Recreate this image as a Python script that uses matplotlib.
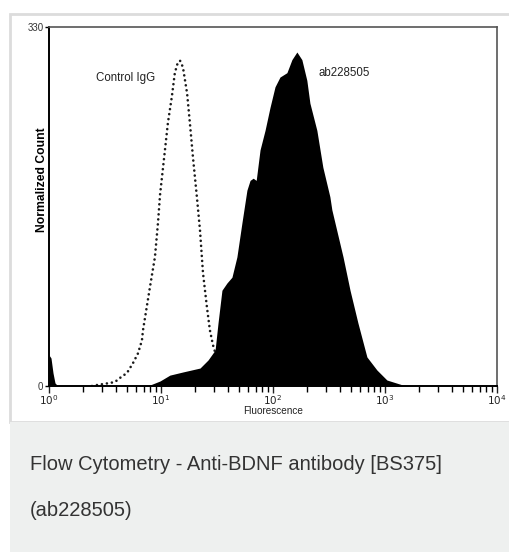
import matplotlib
matplotlib.use("Agg")
import matplotlib.pyplot as plt
from matplotlib.patches import Rectangle

# stained sample (ab228505), filled black histogram
ab_x = [1.0, 1.042, 1.086, 1.131, 1.20, 6.49, 7.97, 9.80, 12.0, 15.7, 22.3, 26.3,
        30.4, 32.3, 35.0, 38.8, 43.0, 47.6, 52.8, 58.5, 62.4, 66.5, 70.8, 76.6,
        84.9, 94.0, 104.2, 115.4, 133.1, 147.5, 163.4, 181.0, 200.5, 213.6, 246.4,
        278.8, 322.0, 335.3, 422.2, 487.3, 573.0, 689.4, 846.6, 1039.8, 1443, 1853]
ab_y = [28.5, 25.7, 12, 2.8, 0, 0, 0.9, 4.6, 10, 12.9, 16.5, 23.9,
        33, 58, 88, 94.7, 100, 118.6, 150, 180, 189, 191, 189, 217,
        235, 256, 275, 284, 288, 300, 307, 300, 281, 260, 235,
        201, 174, 162, 118.6, 88, 58, 26.7, 14.7, 5.5, 0.9, 0]

# isotype control, dotted outline
ctrl_x = [2.42, 2.68, 3.50, 3.88, 4.30, 4.97, 5.62, 6.23, 6.76, 6.90, 7.97, 8.83,
          9.40, 9.80, 10.85, 11.53, 12.5, 13.3, 14.1, 14.8, 15.7, 17.1, 18.1, 19.3,
          20.9, 22.3, 23.7, 25.7, 27.3, 29.1, 32.3, 37.2, 43.0, 50.6]
ctrl_y = [0, 0.9, 2.8, 3.7, 7.4, 12, 21, 30, 42, 51, 91, 118.6,
          150, 175.6, 217, 242, 266, 288, 297, 299, 293, 269, 242, 210,
          174, 143, 104, 72.6, 51.5, 37.7, 22, 10, 2.8, 0]

y_ticks = [0, 330]
caption = ["Flow Cytometry - Anti-BDNF antibody [BS375]", "(ab228505)"]

plt.rcParams["mathtext.fontset"] = "custom"
plt.rcParams["mathtext.rm"] = "Liberation Sans"
plt.rcParams["mathtext.it"] = "Liberation Sans"
plt.rcParams["mathtext.bf"] = "Liberation Sans:bold"

W, H = 510, 552
fig = plt.figure(figsize=(W / 100, H / 100), dpi=100)
fig.patch.set_facecolor("white")

def px(x, y):
    # pixel coords (from top-left) -> figure fraction
    return x / W, 1 - y / H

# card with light border, gray caption strip below (behind the axes)
fig.patches.append(Rectangle(px(10, 422), 510 / W, 408 / H, transform=fig.transFigure,
                             facecolor="white", edgecolor="#dcdcdc", lw=2, zorder=-10))
fig.patches.append(Rectangle(px(10, 552), 510 / W, 130 / H, transform=fig.transFigure,
                             facecolor="#eef0ef", edgecolor="none", zorder=-10))

l, b = px(49, 386)
ax = fig.add_axes([l, b, 448 / W, 359 / H])
ax.set_facecolor("white")

ax.plot(ctrl_x, ctrl_y, color="#1a1a1a", lw=1.9, linestyle=(0, (0.01, 1.9)),
        dash_capstyle="round", zorder=2)
ax.fill_between(ab_x, ab_y, 0, color="black", lw=0, zorder=3)

ax.set_xscale("log")
ax.set_xlim(1, 1e4)
ax.set_ylim(0, 330)
ax.set_yticks(y_ticks)
ax.set_yticklabels([str(v) for v in y_ticks], fontsize=7, family="Liberation Sans", color="#333333")
ax.tick_params(axis="y", length=3, width=1, pad=1)
ax.tick_params(axis="x", which="major", length=5, width=1, pad=0, labelsize=7.5, colors="#222222")
ax.tick_params(axis="x", which="minor", length=4, width=1)

for s in ["left", "bottom"]:
    ax.spines[s].set_linewidth(1.4)
    ax.spines[s].set_color("black")
for s in ["top", "right"]:
    ax.spines[s].set_linewidth(1.2)
    ax.spines[s].set_color("#555555")

fig.text(*px(126, 78), "Control IgG", fontsize=8.3, family="Liberation Sans",
         ha="center", va="center", color="#222222")
fig.text(*px(319, 73), "ab228505", fontsize=8.3, family="Liberation Sans",
         ha="left", va="center", color="#222222")

fig.text(*px(273, 411.5), "Fluorescence", fontsize=7.2, family="Liberation Sans",
         ha="center", va="center", color="#222222")
fig.text(*px(42, 180), "Normalized Count", fontsize=8.7, family="Liberation Sans",
         fontweight="bold", rotation=90, ha="center", va="center", color="black")

fig.text(*px(30, 465), caption[0], fontsize=14.5, family="Liberation Sans",
         ha="left", va="center", color="#333333")
fig.text(*px(30, 510), caption[1], fontsize=14.5, family="Liberation Sans",
         ha="left", va="center", color="#333333")

fig.savefig("out.png", dpi=100)
